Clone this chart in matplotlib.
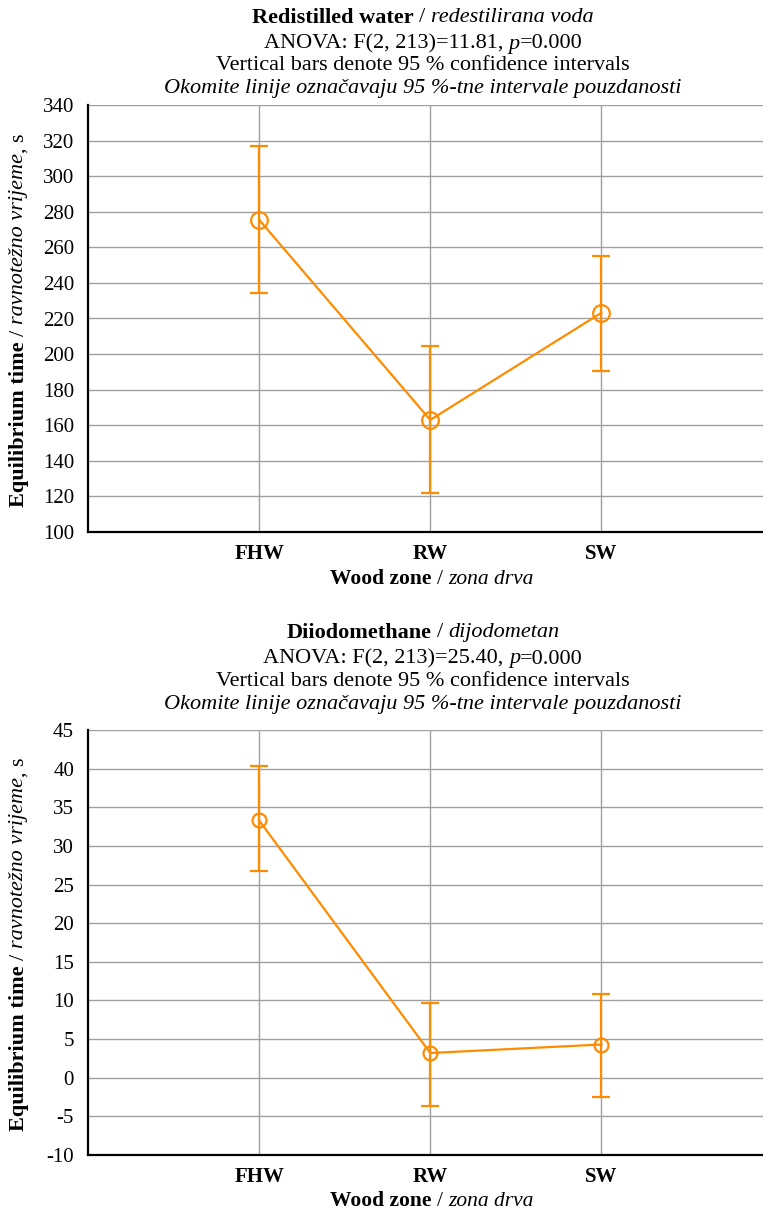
import matplotlib
matplotlib.use("Agg")
import matplotlib.pyplot as plt

# === DATA ===
zones = ["FHW", "RW", "SW"]

water_mean = [275.5, 163.0, 223.2]
water_low = [234.5, 121.8, 190.3]
water_high = [317.2, 204.4, 255.3]

diiodo_mean = [33.3, 3.2, 4.3]
diiodo_low = [26.7, -3.7, -2.5]
diiodo_high = [40.3, 9.7, 10.8]

# === STYLE ===
ORANGE = "#FF8C00"
GRID = "#A0A0A0"
FONT = "Liberation Serif"
FS = 16
TICK_FS = 15

plt.rcParams["font.family"] = FONT
plt.rcParams["font.size"] = FS
plt.rcParams["axes.unicode_minus"] = False

W, H = 763, 1209
fig = plt.figure(figsize=(W / 100, H / 100), dpi=100)
renderer = fig.canvas.get_renderer()


def text_width(s, fs=FS, **kw):
    t = fig.text(0, 0, s, fontsize=fs, **kw)
    w = t.get_window_extent(renderer).width
    t.remove()
    return w


def rich_text(parts, x, y, rotation=0, fs=FS):
    """Place a line made of (text, weight, style, gap) pieces, centred on (x, y) in pixels."""
    space = text_width("x x", fs) - text_width("xx", fs)
    pieces = []
    for s, weight, style, gap in parts:
        pieces.append((s, weight, style, gap, text_width(s, fs, fontweight=weight, fontstyle=style)))
    total = sum(p[4] + p[3] * space for p in pieces)
    pos = 0.0
    for s, weight, style, gap, size in pieces:
        pos += gap * space
        if rotation:
            fig.text(x / W, 1 - (y + total / 2 - pos) / H, s, fontsize=fs,
                     fontweight=weight, fontstyle=style, rotation=90,
                     rotation_mode="anchor", ha="left", va="center")
        else:
            fig.text((x - total / 2 + pos) / W, 1 - y / H, s, fontsize=fs,
                     fontweight=weight, fontstyle=style, ha="left", va="center")
        pos += size


def draw_panel(rect, mean, low, high, ylim, yticks, title_parts, title_y, ms):
    ax = fig.add_axes(rect)
    xs = list(range(1, len(zones) + 1))
    err = [[m - l for m, l in zip(mean, low)], [h - m for m, h in zip(mean, high)]]
    ax.errorbar(xs, mean, yerr=err, color=ORANGE, lw=1.6, elinewidth=1.6,
                capsize=6.5, capthick=1.6, marker="o", ms=ms, mfc="none",
                mec=ORANGE, mew=1.6, zorder=3)
    ax.set_xlim(0, 4)
    ax.set_ylim(*ylim)
    ax.set_yticks(yticks)
    ax.set_xticks(xs)
    ax.set_xticklabels(zones, fontweight="bold")
    ax.grid(True, color=GRID, lw=1)
    ax.set_axisbelow(True)
    for side in ["top", "right"]:
        ax.spines[side].set_visible(False)
    for side in ["left", "bottom"]:
        ax.spines[side].set_linewidth(1.6)
    ax.tick_params(length=0, pad=10, labelsize=TICK_FS)
    ax.tick_params(axis="x", pad=9)

    # title lines
    for (parts, yy) in zip(title_parts, title_y):
        rich_text(parts, 423, yy)
    return ax


def title_block(name_b, name_i, anova):
    return [
        [(name_b, "bold", "normal", 0), ("/", "normal", "normal", 1), (name_i, "normal", "italic", 1)],
        [(anova, "normal", "normal", 0), ("p", "normal", "italic", 1), ("=0.000", "normal", "normal", 0)],
        [("Vertical bars denote 95 % confidence intervals", "normal", "normal", 0)],
        [("Okomite linije označavaju 95 %-tne intervale pouzdanosti", "normal", "italic", 0)],
    ]


ylabel_parts = [("Equilibrium time", "bold", "normal", 0), ("/", "normal", "normal", 1),
                ("ravnotežno vrijeme", "normal", "italic", 1), (",", "normal", "normal", 0),
                ("s", "normal", "normal", 1)]
xlabel_parts = [("Wood zone", "bold", "normal", 0), ("/", "normal", "normal", 1),
                ("zona drva", "normal", "italic", 1)]

# top panel: 105 .. 532 px
ax1 = draw_panel([88 / W, 1 - 532 / H, (772.5 - 88) / W, (532 - 105) / H],
                 water_mean, water_low, water_high, (100, 340), range(100, 341, 20),
                 title_block("Redistilled water", "redestilirana voda", "ANOVA: F(2, 213)=11.81,"),
                 [18, 44, 66, 88], ms=12)
rich_text(ylabel_parts, 19, 320, rotation=90)
rich_text(xlabel_parts, 432, 579, fs=15.5)

# bottom panel: 730 .. 1155 px
ax2 = draw_panel([88 / W, 1 - 1155 / H, (772.5 - 88) / W, (1155 - 730) / H],
                 diiodo_mean, diiodo_low, diiodo_high, (-10, 45), range(-10, 46, 5),
                 title_block("Diiodomethane", "dijodometan", "ANOVA: F(2, 213)=25.40,"),
                 [633, 659, 682, 705], ms=10)
rich_text(ylabel_parts, 19, 944, rotation=90)
rich_text(xlabel_parts, 432, 1201, fs=15.5)

fig.savefig("out.png", dpi=100)
